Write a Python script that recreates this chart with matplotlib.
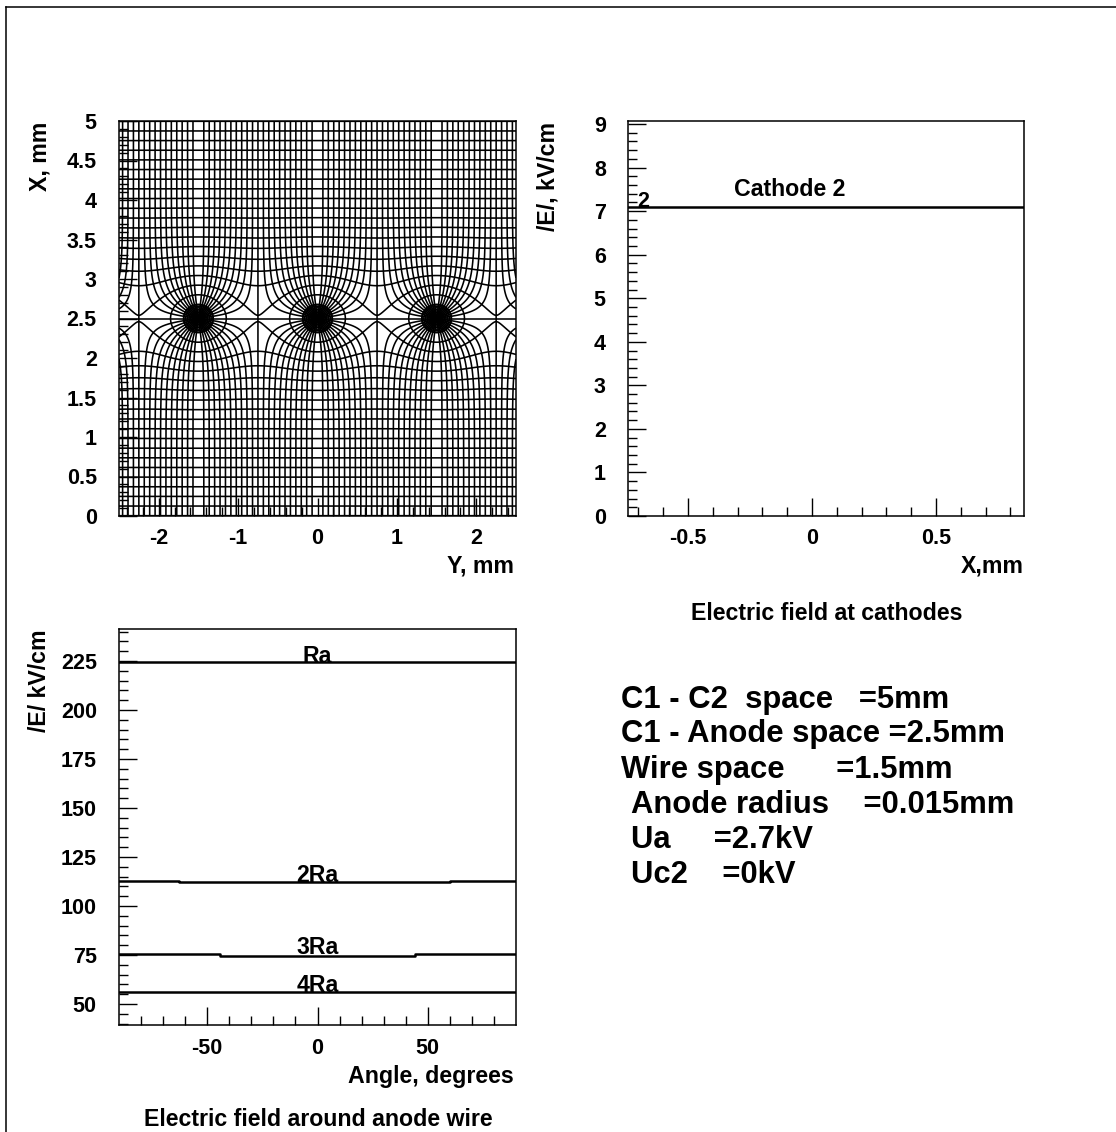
import numpy as np
import matplotlib
matplotlib.use("Agg")
import matplotlib.pyplot as plt
from matplotlib.lines import Line2D

plt.rcParams['font.family'] = ['Liberation Sans', 'DejaVu Sans']
plt.rcParams['font.weight'] = 'bold'

W = 1116
H = 1132

# wire chamber geometry as printed on the chart
wire_space = 1.5
anode_x = 2.5
n_lines_per_wire = 22
# distance from the wire (mm) of the curves crossing the line above it
inner_step = 0.02
inner_end = 0.178
outer_step = 0.122

# field at cathode
cathode_x = [-0.742, 0.855]
cathode_e = [7.09, 7.09]

# field around the anode wire
angle_ra = [-90, 90]
e_ra = [224.6, 224.6]
angle_2ra = [-90, -63, -63, 60, 60, 90]
e_2ra = [112.9, 112.9, 112.1, 112.1, 112.9, 112.9]
angle_3ra = [-90, -44, -44, 44, 44, 90]
e_3ra = [75.5, 75.5, 74.7, 74.7, 75.5, 75.5]
angle_4ra = [-90, 90]
e_4ra = [55.9, 55.9]

map_xticks = [-2, -1, 0, 1, 2]
map_xlabels = ['-2', '-1', '0', '1', '2']
map_yticks = [0, 0.5, 1, 1.5, 2, 2.5, 3, 3.5, 4, 4.5, 5]
map_ylabels = ['0', '0.5', '1', '1.5', '2', '2.5', '3', '3.5', '4', '4.5', '5']
cat_xticks = [-0.5, 0, 0.5]
cat_xlabels = ['-0.5', '0', '0.5']
cat_yticks = [0, 1, 2, 3, 4, 5, 6, 7, 8, 9]
ang_xticks = [-50, 0, 50]
ang_yticks = [50, 75, 100, 125, 150, 175, 200, 225]

text_block = [
    (621, 700, 'C1 - C2  space   =5mm'),
    (621, 734, 'C1 - Anode space =2.5mm'),
    (621, 770, 'Wire space      =1.5mm'),
    (631, 805, 'Anode radius    =0.015mm'),
    (631, 840, 'Ua     =2.7kV'),
    (631, 875, 'Uc2    =0kV'),
]


def make_axes(left, top, right, bottom):
    ax = fig.add_axes([left / W, 1 - bottom / H, (right - left) / W, (bottom - top) / H])
    for s in ax.spines.values():
        s.set_linewidth(1.1)
    ax.tick_params(which='major', direction='in', length=13, width=1.0,
                   labelsize=15.5, top=False, right=False)
    ax.tick_params(which='minor', direction='in', length=6.5, width=1.0, top=False, right=False)
    ax.tick_params(axis='x', which='major', pad=9)
    ax.tick_params(axis='y', which='major', pad=16)
    return ax


def label(x, y, s, size=16.7, ha='center', rotation=0, va='center'):
    fig.text(x / W, 1 - y / H, s, fontsize=size, ha=ha, va=va, rotation=rotation)


fig = plt.figure(figsize=(W / 100, H / 100), dpi=100)

# outer frame, only top and left are visible
fig.add_artist(Line2D([6 / W, 6 / W], [0, 1 - 7 / H], color='black', lw=1.1))
fig.add_artist(Line2D([6 / W, 1], [1 - 7 / H, 1 - 7 / H], color='black', lw=1.1))

# field map: not digitised, contours of the complex potential of a row of wires
ax1 = make_axes(119, 121, 516, 516)
yy = np.linspace(-2.5, 2.5, 1501) + 1e-5
xx = np.linspace(0, 5, 1501) + 1e-5
Y, X = np.meshgrid(yy, xx)
z = np.pi * (Y + 1j * np.abs(X - anode_x)) / wire_space
w = -1j * z + np.log(1 - np.exp(2j * z))
potential = w.real
flux = w.imag
radii = np.concatenate([np.arange(0.015, inner_end, inner_step), np.arange(inner_end, 2.5, outer_step)])
pot_levels = np.log(2 * np.sinh(np.pi * radii / wire_space))
step = np.pi / n_lines_per_wire
flux_idx = np.arange(-80, 81)
flux_levels = [i * step for i in flux_idx if i % n_lines_per_wire != 0]
ax1.contour(Y, X, potential, levels=pot_levels, colors='black', linewidths=1.15, linestyles='solid')
ax1.contour(Y, X, flux, levels=flux_levels, colors='black', linewidths=1.15, linestyles='solid')
ax1.axhline(anode_x, color='black', lw=1.15)
ax1.set_xlim(-2.5, 2.5)
ax1.set_ylim(0, 5)
ax1.set_xticks(map_xticks, map_xlabels)
ax1.set_yticks(map_yticks, map_ylabels)
ax1.set_xticks(np.arange(-2.4, 2.5, 0.2), minor=True)
ax1.set_yticks(np.arange(0, 5.01, 0.1), minor=True)
label(514, 566, 'Y, mm', ha='right')
label(40, 122, 'X, mm', rotation=90, ha='center', va='top')

# field at the cathodes
ax2 = make_axes(628, 121, 1024, 516)
ax2.plot(cathode_x, cathode_e, color='black', lw=1.8)
ax2.set_xlim(-0.742, 0.855)
ax2.set_ylim(0, 9.07)
ax2.set_xticks(cat_xticks, cat_xlabels)
ax2.set_yticks(cat_yticks, [str(v) for v in cat_yticks])
ax2.set_xticks(np.arange(-0.7, 0.81, 0.1), minor=True)
ax2.set_yticks(np.arange(0, 9.01, 0.2), minor=True)
ax2.text(-0.68, 7.22, '2', fontsize=15.5, ha='center', va='center')
ax2.text(-0.315, 7.49, 'Cathode 2', fontsize=16.7, ha='left', va='center')
label(1024, 566, 'X,mm', ha='right')
label(548, 122, '/E/, kV/cm', rotation=90, ha='center', va='top')
label(827, 613, 'Electric field at cathodes')

# field around the anode wire
ax3 = make_axes(119, 629, 516, 1025)
ax3.plot(angle_ra, e_ra, color='black', lw=1.8)
ax3.plot(angle_2ra, e_2ra, color='black', lw=1.8)
ax3.plot(angle_3ra, e_3ra, color='black', lw=1.8)
ax3.plot(angle_4ra, e_4ra, color='black', lw=1.8)
ax3.set_xlim(-90, 90)
ax3.set_ylim(39.3, 241.3)
ax3.set_xticks(ang_xticks, [str(v) for v in ang_xticks])
ax3.set_yticks(ang_yticks, [str(v) for v in ang_yticks])
ax3.set_xticks(np.arange(-80, 81, 10), minor=True)
ax3.set_yticks(np.arange(40, 241, 5), minor=True)
ax3.text(0, 227.4, 'Ra', fontsize=16.7, ha='center', va='center')
ax3.text(0, 115.7, '2Ra', fontsize=16.7, ha='center', va='center')
ax3.text(0, 79, '3Ra', fontsize=16.7, ha='center', va='center')
ax3.text(0, 59.6, '4Ra', fontsize=16.7, ha='center', va='center')
label(514, 1076, 'Angle, degrees', ha='right')
label(40, 630, '/E/ kV/cm', rotation=90, ha='center', va='top')
label(318, 1120, 'Electric field around anode wire')

for tx, ty, s in text_block:
    label(tx, ty, s, size=22.3, ha='left')

fig.savefig('out.png', dpi=100)
